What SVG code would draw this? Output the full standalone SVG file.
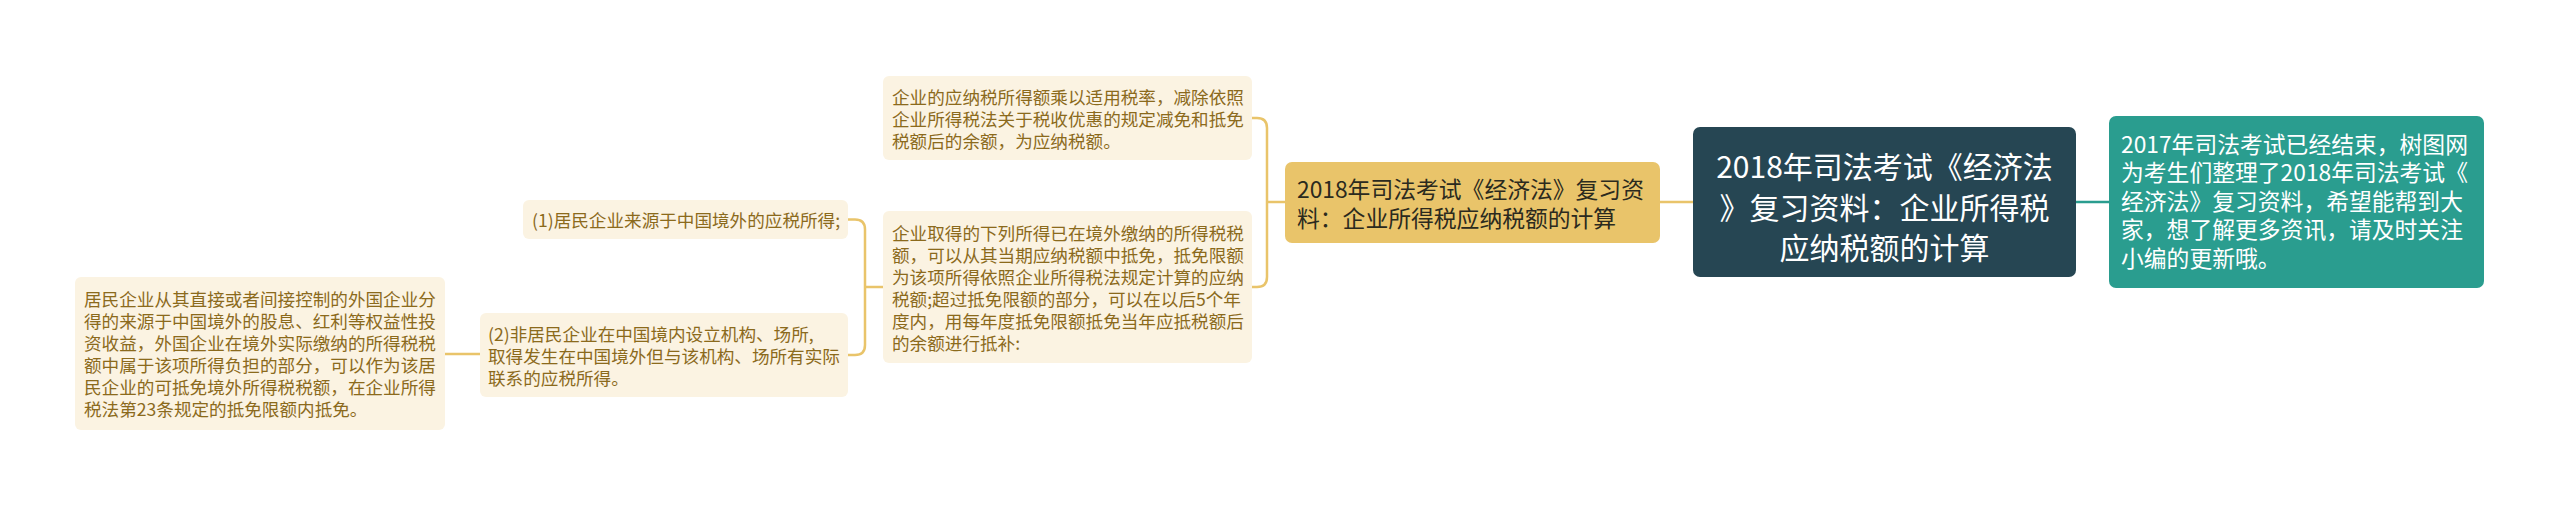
<svg xmlns="http://www.w3.org/2000/svg" width="2560" height="507" viewBox="0 0 2560 507">
<style>
text { font-family: "Noto Sans CJK SC", "Noto Sans", sans-serif; dominant-baseline: central; }
.root { fill: #264653; }
.rootT { fill: #ffffff; font-size: 30px; text-anchor: middle; }
.teal { fill: #2a9d8f; }
.tealT { fill: #ffffff; font-size: 22.8px; }
.yel { fill: #e9c46a; }
.yelT { fill: #2b2a1e; font-size: 22.8px; }
.cream { fill: #fbf3e2; }
.creamT { fill: #8b6a1c; font-size: 17.6px; }
.cy { fill: none; stroke: #e9c46a; stroke-width: 2.5; }
.ct { fill: none; stroke: #2a9d8f; stroke-width: 2.5; }
</style>
<rect width="2560" height="507" fill="#ffffff"/>
<g id="connectors">
  <path class="ct" d="M2076,202 H2109"/>
  <path class="cy" d="M1660,202 H1693"/>
  <path class="cy" d="M1285,202 H1267"/>
  <path class="cy" d="M1252,118 H1257 Q1267,118 1267,128 V277 Q1267,287 1257,287 H1252"/>
  <path class="cy" d="M883,287 H865"/>
  <path class="cy" d="M848,219.5 H855 Q865,219.5 865,229.5 V345 Q865,355 855,355 H848"/>
  <path class="cy" d="M480,354 H445"/>
</g>
<g id="root">
  <rect class="root" x="1693" y="127" width="383" height="150" rx="7"/>
  <text class="rootT" x="1884.5" y="165">2018年司法考试《经济法</text>
  <text class="rootT" x="1884.5" y="206">》复习资料：企业所得税</text>
  <text class="rootT" x="1884.5" y="246">应纳税额的计算</text>
</g>
<g id="intro">
  <rect class="teal" x="2109" y="116" width="375" height="172" rx="7"/>
  <text class="tealT" x="2121" y="143">2017年司法考试已经结束，树图网</text>
  <text class="tealT" x="2121" y="171.5">为考生们整理了2018年司法考试《</text>
  <text class="tealT" x="2121" y="200">经济法》复习资料，希望能帮到大</text>
  <text class="tealT" x="2121" y="228.5">家，想了解更多资讯，请及时关注</text>
  <text class="tealT" x="2121" y="257">小编的更新哦。</text>
</g>
<g id="branch">
  <rect class="yel" x="1285" y="162" width="375" height="81" rx="7"/>
  <text class="yelT" x="1297" y="188">2018年司法考试《经济法》复习资</text>
  <text class="yelT" x="1297" y="217">料：企业所得税应纳税额的计算</text>
</g>
<g id="nodeA">
  <rect class="cream" x="883" y="76" width="369" height="84" rx="6"/>
  <text class="creamT" x="892" y="96">企业的应纳税所得额乘以适用税率，减除依照</text>
  <text class="creamT" x="892" y="118">企业所得税法关于税收优惠的规定减免和抵免</text>
  <text class="creamT" x="892" y="140">税额后的余额，为应纳税额。</text>
</g>
<g id="nodeB">
  <rect class="cream" x="883" y="211" width="369" height="152" rx="6"/>
  <text class="creamT" x="892" y="232">企业取得的下列所得已在境外缴纳的所得税税</text>
  <text class="creamT" x="892" y="254">额，可以从其当期应纳税额中抵免，抵免限额</text>
  <text class="creamT" x="892" y="276">为该项所得依照企业所得税法规定计算的应纳</text>
  <text class="creamT" x="892" y="298">税额;超过抵免限额的部分，可以在以后5个年</text>
  <text class="creamT" x="892" y="320">度内，用每年度抵免限额抵免当年应抵税额后</text>
  <text class="creamT" x="892" y="342">的余额进行抵补:</text>
</g>
<g id="node1">
  <rect class="cream" x="523" y="200" width="325" height="39" rx="6"/>
  <text class="creamT" x="532" y="219.5">(1)居民企业来源于中国境外的应税所得;</text>
</g>
<g id="node2">
  <rect class="cream" x="480" y="313" width="368" height="84" rx="6"/>
  <text class="creamT" x="488" y="333">(2)非居民企业在中国境内设立机构、场所,</text>
  <text class="creamT" x="488" y="355">取得发生在中国境外但与该机构、场所有实际</text>
  <text class="creamT" x="488" y="377">联系的应税所得。</text>
</g>
<g id="leaf">
  <rect class="cream" x="75" y="277" width="370" height="153" rx="6"/>
  <text class="creamT" x="84" y="298">居民企业从其直接或者间接控制的外国企业分</text>
  <text class="creamT" x="84" y="320">得的来源于中国境外的股息、红利等权益性投</text>
  <text class="creamT" x="84" y="342">资收益，外国企业在境外实际缴纳的所得税税</text>
  <text class="creamT" x="84" y="364">额中属于该项所得负担的部分，可以作为该居</text>
  <text class="creamT" x="84" y="386">民企业的可抵免境外所得税税额，在企业所得</text>
  <text class="creamT" x="84" y="408">税法第23条规定的抵免限额内抵免。</text>
</g>
</svg>
